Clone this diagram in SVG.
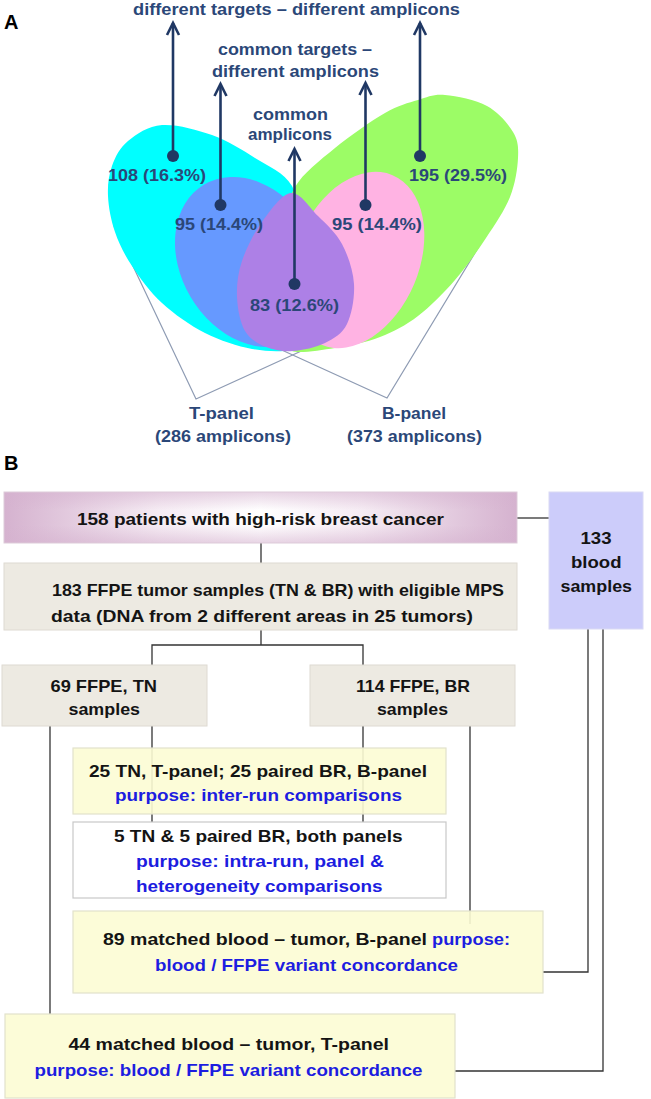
<svg xmlns="http://www.w3.org/2000/svg" width="651" height="1099" viewBox="0 0 651 1099">
<defs>
<style>
.va{font-family:"Liberation Sans",Arial,sans-serif;font-weight:bold;font-size:17px;fill:#2b4778}
.tb{font-family:"Liberation Sans",Arial,sans-serif;font-weight:bold;font-size:17px;fill:#141414}
.tp{fill:#1d1de0}
.lbl{font-family:"Liberation Sans",Arial,sans-serif;font-weight:bold;font-size:20px;fill:#000}
.br{fill:none;stroke:#8e9bb3;stroke-width:1.2}
.ar{stroke:#203864;stroke-width:2.6;fill:none}
.dot{fill:#203864}
.cn{fill:none;stroke:#333;stroke-width:1.3}
.beige{fill:#edeae2;stroke:#dedad2;stroke-width:1}
.yel{fill:#fcfcd4;fill-opacity:0.9;stroke:#e2e2cc;stroke-width:1.2}
</style>
<marker id="ah" viewBox="-14 -8 16 16" markerWidth="16" markerHeight="16" refX="0" refY="0" orient="auto" markerUnits="userSpaceOnUse" overflow="visible">
<path d="M-12,-6 L0,0 L-12,6" fill="none" stroke="#203864" stroke-width="2.6"/>
</marker>
<linearGradient id="gh" x1="0" y1="0" x2="1" y2="0">
<stop offset="0" stop-color="#d5b2cf"/>
<stop offset="0.3" stop-color="#f5ebf3"/>
<stop offset="0.5" stop-color="#ffffff"/>
<stop offset="0.7" stop-color="#f5ebf3"/>
<stop offset="1" stop-color="#d5b2cf"/>
</linearGradient>
<linearGradient id="gv" x1="0" y1="0" x2="0" y2="1">
<stop offset="0" stop-color="#d5b2cf" stop-opacity="0.55"/>
<stop offset="0.35" stop-color="#d5b2cf" stop-opacity="0"/>
<stop offset="0.65" stop-color="#d5b2cf" stop-opacity="0"/>
<stop offset="1" stop-color="#d5b2cf" stop-opacity="0.55"/>
</linearGradient>
</defs>
<rect width="651" height="1099" fill="#fff"/>

<g id="panelA">
<text class="lbl" x="4" y="29">A</text>
<g id="brackets">
<path class="br" d="M114,226 L196,399 L332,337"/>
<path class="br" d="M262,341 L387,398 L484,238"/>
</g>
<g id="venn">
<path id="cyan" fill="#00ffff" d="M162,125 C176,124 196.5,129.5 212,135 C227.5,140.5 241.7,149.5 255,158 C268.3,166.5 284,172.3 292,186 C300,199.7 301.2,220.2 303,240 C304.8,259.8 305.2,286.7 303,305 C300.8,323.3 297,348 290,350 C283,352 266.2,351.8 252,349 C237.8,346.2 220,340.7 205,333 C190,325.3 174.2,314.2 162,303 C149.8,291.8 139.8,277.8 132,266 C124.2,254.2 119,243.7 115,232 C111,220.3 108.5,207 108,196 C107.5,185 108.7,175.2 112,166 C115.3,156.8 119.7,147.8 128,141 C136.3,134.2 148,126 162,125 Z"/>
<path id="green" fill="#9cfc66" d="M445,95 C456.5,96 475.7,99.8 487,106 C498.3,112.2 507.8,123.3 513,132 C518.2,140.7 518.5,147.2 518,158 C517.5,168.8 515.3,183.7 510,197 C504.7,210.3 495.2,224.2 486,238 C476.8,251.8 466.3,267 455,280 C443.7,293 430.5,306.5 418,316 C405.5,325.5 393.8,331.7 380,337 C366.2,342.3 349.7,345.7 335,348 C320.3,350.3 298,354 292,351 C286,348 286.8,320.2 286,300 C285.2,279.8 285.5,248.8 287,230 C288.5,211.2 287,200.7 295,187 C303,173.3 320,160.3 335,148 C350,135.7 371.2,121 385,113 C398.8,105 408,103 418,100 C428,97 433.5,94 445,95 Z"/>
<ellipse id="blue" fill="#6699ff" cx="250" cy="262" rx="69" ry="90" transform="rotate(-30.6 250 262)"/>
<ellipse id="pink" fill="#ffb3e3" cx="357" cy="260" rx="62" ry="92" transform="rotate(22.7 357 260)"/>
<path id="purple" fill="#ad80e6" d="M291,193 C300.3,192 309.5,207.5 318,216 C326.5,224.5 336,232.7 342,244 C348,255.3 353.2,270.7 354,284 C354.8,297.3 351.8,314.2 347,324 C342.2,333.8 334,338.5 325,343 C316,347.5 302.8,350.3 293,351 C283.2,351.7 274,350.3 266,347 C258,343.7 249.8,339.3 245,331 C240.2,322.7 237.5,308.7 237,297 C236.5,285.3 237.8,273.5 242,261 C246.2,248.5 253.8,233.3 262,222 C270.2,210.7 281.7,194 291,193 Z"/>
</g>
<g id="arrows">
<line class="ar" x1="173" y1="156" x2="173" y2="23" marker-end="url(#ah)"/>
<line class="ar" x1="220.5" y1="205" x2="220.5" y2="84" marker-end="url(#ah)"/>
<line class="ar" x1="294.5" y1="284" x2="294.5" y2="149" marker-end="url(#ah)"/>
<line class="ar" x1="365.5" y1="205" x2="365.5" y2="83" marker-end="url(#ah)"/>
<line class="ar" x1="420" y1="156" x2="420" y2="23" marker-end="url(#ah)"/>
<circle class="dot" cx="173" cy="156" r="6"/>
<circle class="dot" cx="220.5" cy="205" r="6"/>
<circle class="dot" cx="294.5" cy="284" r="6"/>
<circle class="dot" cx="365.5" cy="205" r="6"/>
<circle class="dot" cx="420" cy="156" r="6"/>
</g>
<g id="venn-labels">
<text class="va" x="133" y="14.7" textLength="327" lengthAdjust="spacingAndGlyphs">different targets – different amplicons</text>
<text class="va" x="218" y="55" textLength="154" lengthAdjust="spacingAndGlyphs">common targets –</text>
<text class="va" x="212" y="77" textLength="167" lengthAdjust="spacingAndGlyphs">different amplicons</text>
<text class="va" x="253" y="120" textLength="75" lengthAdjust="spacingAndGlyphs">common</text>
<text class="va" x="248" y="140" textLength="84" lengthAdjust="spacingAndGlyphs">amplicons</text>
<text class="va" x="108" y="181" textLength="98" lengthAdjust="spacingAndGlyphs">108 (16.3%)</text>
<text class="va" x="409" y="181" textLength="98" lengthAdjust="spacingAndGlyphs">195 (29.5%)</text>
<text class="va" x="175" y="230" textLength="88" lengthAdjust="spacingAndGlyphs">95 (14.4%)</text>
<text class="va" x="332" y="230" textLength="90" lengthAdjust="spacingAndGlyphs">95 (14.4%)</text>
<text class="va" x="250" y="311" textLength="89" lengthAdjust="spacingAndGlyphs">83 (12.6%)</text>
<text class="va" x="189" y="419" textLength="65" lengthAdjust="spacingAndGlyphs">T-panel</text>
<text class="va" x="155" y="442" textLength="136" lengthAdjust="spacingAndGlyphs">(286 amplicons)</text>
<text class="va" x="382" y="419" textLength="64" lengthAdjust="spacingAndGlyphs">B-panel</text>
<text class="va" x="347" y="442" textLength="135" lengthAdjust="spacingAndGlyphs">(373 amplicons)</text>
</g>
</g>

<g id="panelB">
<text class="lbl" x="4" y="470">B</text>
<g id="connectors">
<path class="cn" d="M261,543 V563"/>
<path class="cn" d="M517,518 H549"/>
<path class="cn" d="M261,630 V645 M152,665 V645 H363 V665"/>
<path class="cn" d="M50,726 V1014"/>
<path class="cn" d="M152,726 V822"/>
<path class="cn" d="M363,726 V822"/>
<path class="cn" d="M470,726 V924"/>
<path class="cn" d="M588,629 V972 H543"/>
<path class="cn" d="M603,629 V1071 H455"/>
</g>
<g id="patients">
<rect x="4" y="492" width="513" height="51" fill="url(#gh)"/>
<rect x="4" y="492" width="513" height="51" fill="url(#gv)" stroke="#ddcbd9" stroke-width="1"/>
<text class="tb" x="77" y="525" textLength="367" lengthAdjust="spacingAndGlyphs">158 patients with high-risk breast cancer</text>
</g>
<g id="blood">
<rect x="549" y="492" width="94" height="137" fill="#ccccfa" stroke="#dadaf4" stroke-width="1"/>
<text class="tb" x="580.5" y="544" textLength="31" lengthAdjust="spacingAndGlyphs">133</text>
<text class="tb" x="571" y="568" textLength="50.5" lengthAdjust="spacingAndGlyphs">blood</text>
<text class="tb" x="560.5" y="592" textLength="71.5" lengthAdjust="spacingAndGlyphs">samples</text>
</g>
<g id="ffpe">
<rect class="beige" x="4" y="563" width="513" height="67"/>
<text class="tb" x="52" y="596" textLength="452" lengthAdjust="spacingAndGlyphs">183 FFPE tumor samples (TN &amp; BR) with eligible MPS</text>
<text class="tb" x="51" y="622" textLength="422" lengthAdjust="spacingAndGlyphs">data (DNA from 2 different areas in 25 tumors)</text>
</g>
<g id="tn">
<rect class="beige" x="2" y="665" width="205" height="61"/>
<text class="tb" x="50.5" y="691.5" textLength="106.5" lengthAdjust="spacingAndGlyphs">69 FFPE, TN</text>
<text class="tb" x="68.5" y="715" textLength="71.5" lengthAdjust="spacingAndGlyphs">samples</text>
</g>
<g id="br">
<rect class="beige" x="310" y="665" width="205" height="61"/>
<text class="tb" x="356" y="691.5" textLength="114" lengthAdjust="spacingAndGlyphs">114 FFPE, BR</text>
<text class="tb" x="377" y="715" textLength="71" lengthAdjust="spacingAndGlyphs">samples</text>
</g>
<g id="interrun">
<rect class="yel" x="73" y="748" width="373" height="66"/>
<text class="tb" x="89" y="776.5" textLength="338" lengthAdjust="spacingAndGlyphs">25 TN, T-panel; 25 paired BR, B-panel</text>
<text class="tb tp" x="115" y="800.5" textLength="287" lengthAdjust="spacingAndGlyphs">purpose: inter-run comparisons</text>
</g>
<g id="intrarun">
<rect x="73" y="822" width="373" height="76" fill="#ffffff" fill-opacity="0.92" stroke="#c8c8c8" stroke-width="1.2"/>
<text class="tb" x="114" y="841.5" textLength="288.5" lengthAdjust="spacingAndGlyphs">5 TN &amp; 5 paired BR, both panels</text>
<text class="tb tp" x="136" y="867" textLength="248" lengthAdjust="spacingAndGlyphs">purpose: intra-run, panel &amp;</text>
<text class="tb tp" x="136" y="891.5" textLength="246.5" lengthAdjust="spacingAndGlyphs">heterogeneity comparisons</text>
</g>
<g id="bpanel">
<rect class="yel" x="73" y="911" width="470" height="82"/>
<text class="tb" x="103" y="945" textLength="324" lengthAdjust="spacingAndGlyphs">89 matched blood – tumor, B-panel</text>
<text class="tb tp" x="432" y="945" textLength="78" lengthAdjust="spacingAndGlyphs">purpose:</text>
<text class="tb tp" x="155" y="970.5" textLength="303" lengthAdjust="spacingAndGlyphs">blood / FFPE variant concordance</text>
</g>
<g id="tpanel">
<rect class="yel" x="5" y="1014" width="450" height="84"/>
<text class="tb" x="68.5" y="1050" textLength="320.5" lengthAdjust="spacingAndGlyphs">44 matched blood – tumor, T-panel</text>
<text class="tb tp" x="34.5" y="1076" textLength="388" lengthAdjust="spacingAndGlyphs">purpose: blood / FFPE variant concordance</text>
</g>
</g>
</svg>
